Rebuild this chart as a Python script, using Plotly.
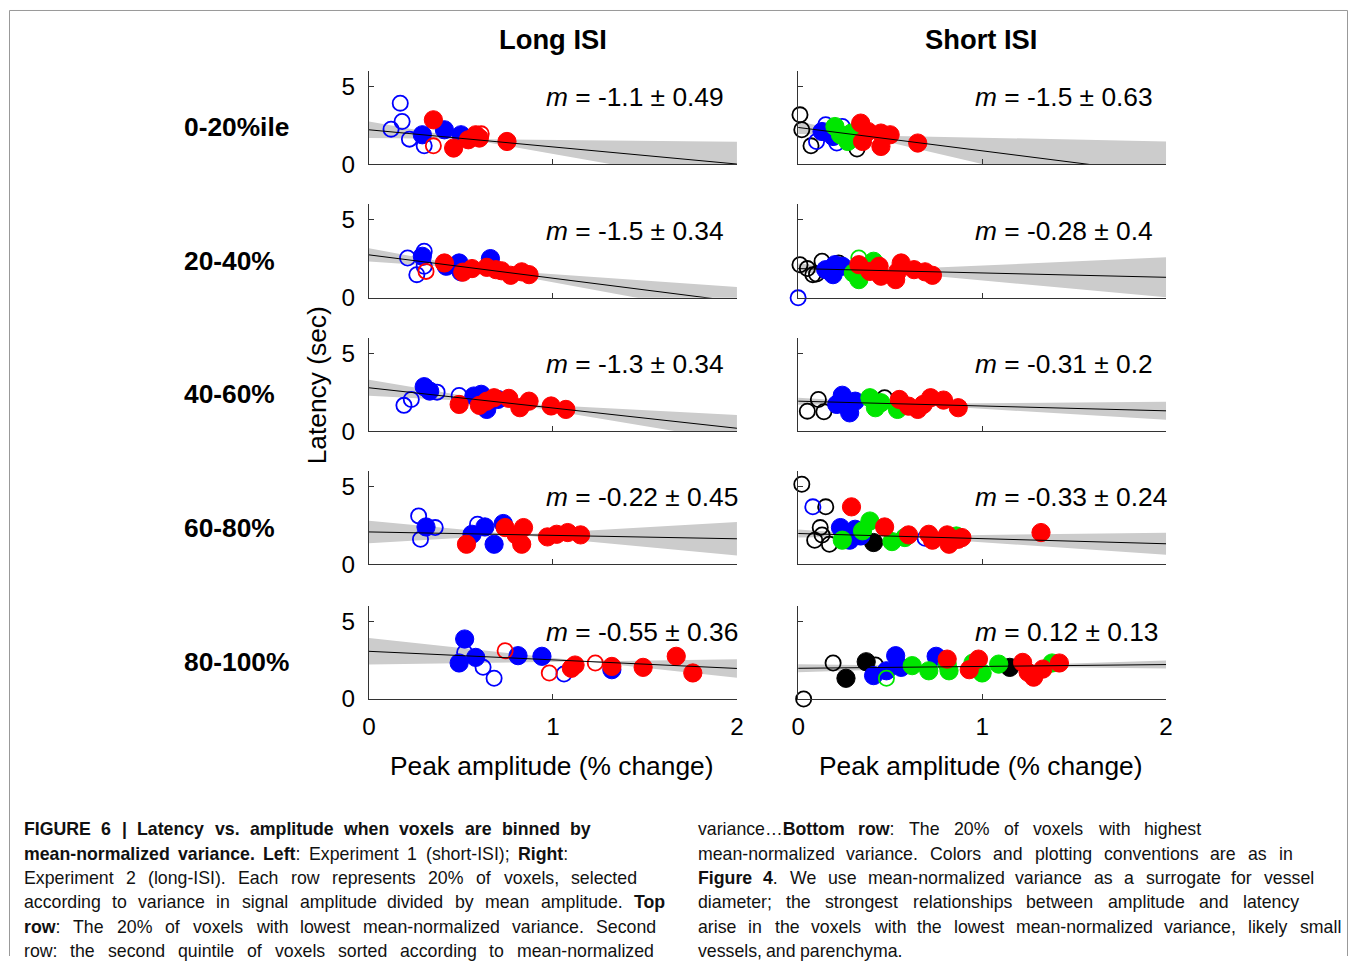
import plotly.graph_objects as go

W, H = 1355, 970
FONT = "Liberation Sans, Arial, Helvetica, sans-serif"

col_titles = ["Long ISI", "Short ISI"]
row_labels = ["0-20%ile", "20-40%", "40-60%", "60-80%", "80-100%"]
x_ticks = [0, 1, 2]
y_ticks = [0, 5]

# regression parameters per panel [row][col]
slopes = [[-1.1, -1.5], [-1.5, -0.28], [-1.3, -0.31], [-0.22, -0.33], [-0.55, 0.12]]
slope_err = [[0.49, 0.63], [0.34, 0.4], [0.34, 0.2], [0.45, 0.24], [0.36, 0.13]]
intercepts = [[2.2, 2.35], [2.76, 1.88], [2.78, 1.92], [2.07, 1.97], [3.06, 1.97]]
pivot_x = [[0.54, 0.33], [0.62, 0.4], [0.75, 0.56], [0.8, 0.52], [1.18, 1.0]]

# points: key -> (x list, y list); key = colour_style
long_r1 = {
    "blue_open": ([0.17, 0.18, 0.12, 0.22, 0.30], [3.91, 2.73, 2.24, 1.60, 1.17]),
    "blue_filled": ([0.29, 0.41, 0.50], [1.88, 2.20, 1.88]),
    "red_open": ([0.35, 0.61], [1.17, 1.94]),
    "red_filled": ([0.35, 0.46, 0.54, 0.58, 0.60, 0.75], [2.84, 1.03, 1.56, 1.88, 1.67, 1.45]),
}
short_r1 = {
    "black_open": ([0.01, 0.02, 0.07, 0.32], [3.16, 2.20, 1.17, 0.96]),
    "blue_open": ([0.15, 0.10, 0.24, 0.21], [2.52, 1.45, 2.41, 1.35]),
    "blue_filled": ([0.13, 0.19], [2.09, 1.77]),
    "green_filled": ([0.20, 0.23, 0.29, 0.27], [2.41, 1.88, 1.99, 1.45]),
    "red_filled": ([0.34, 0.38, 0.35, 0.45, 0.50, 0.45, 0.65], [2.63, 2.09, 1.45, 1.99, 1.88, 1.13, 1.35]),
}
long_r2 = {
    "blue_open": ([0.21, 0.30, 0.26, 0.30], [2.56, 2.99, 1.49, 2.03]),
    "blue_filled": ([0.29, 0.42, 0.49, 0.50, 0.66], [2.67, 2.03, 2.24, 1.67, 2.52]),
    "red_open": ([0.31], [1.70]),
    "red_filled": ([0.41, 0.51, 0.56, 0.64, 0.69, 0.72, 0.77, 0.83, 0.87],
                   [2.24, 1.65, 1.88, 1.96, 1.81, 1.74, 1.45, 1.67, 1.49]),
}
short_r2 = {
    "black_open": ([0.01, 0.05, 0.08, 0.13, 0.10, 0.22, 0.18], [2.13, 1.88, 1.49, 2.35, 1.53, 2.24, 1.70]),
    "blue_open": ([0.0], [0.0]),
    "blue_filled": ([0.15, 0.20, 0.24, 0.19], [1.81, 2.13, 2.03, 1.49]),
    "green_open": ([0.33], [2.56]),
    "green_filled": ([0.30, 0.41, 0.33], [1.60, 2.35, 1.17]),
    "red_filled": ([0.33, 0.39, 0.44, 0.45, 0.53, 0.56, 0.63, 0.69, 0.73, 0.54],
                   [2.13, 1.70, 2.03, 1.39, 1.17, 2.24, 1.81, 1.67, 1.45, 1.67]),
}
long_r3 = {
    "blue_open": ([0.19, 0.23, 0.37, 0.49], [1.65, 2.03, 2.50, 2.29]),
    "blue_filled": ([0.30, 0.33, 0.57, 0.61, 0.64, 0.70], [2.85, 2.57, 2.25, 2.36, 1.39, 2.03]),
    "red_filled": ([0.49, 0.60, 0.68, 0.76, 0.82, 0.87, 0.99, 1.07, 0.64],
                   [1.71, 1.65, 2.14, 2.10, 1.50, 1.92, 1.61, 1.39, 1.92]),
}
short_r3 = {
    "black_open": ([0.05, 0.11, 0.14, 0.47], [1.28, 2.03, 1.24, 2.14]),
    "blue_filled": ([0.24, 0.28, 0.21, 0.31], [2.30, 1.17, 1.71, 1.92]),
    "green_filled": ([0.39, 0.45, 0.54, 0.42], [2.14, 1.82, 1.39, 1.50]),
    "red_filled": ([0.55, 0.60, 0.65, 0.72, 0.79, 0.87, 0.68], [2.03, 1.60, 1.39, 2.14, 1.99, 1.50, 1.71]),
}
long_r4 = {
    "blue_open": ([0.27, 0.28, 0.36, 0.59], [3.10, 1.60, 2.35, 2.56]),
    "blue_filled": ([0.31, 0.56, 0.63, 0.68, 0.73], [2.39, 1.92, 2.39, 1.28, 2.61]),
    "red_filled": ([0.53, 0.74, 0.80, 0.84, 0.83, 0.97, 1.02, 1.08, 1.15],
                   [1.28, 2.35, 1.88, 2.35, 1.28, 1.75, 1.92, 2.03, 1.88]),
}
short_r4 = {
    "black_open": ([0.02, 0.15, 0.12, 0.09, 0.17, 0.13], [5.13, 3.68, 2.35, 1.54, 1.28, 1.88]),
    "blue_open": ([0.08, 0.69], [3.68, 1.66]),
    "black_filled": ([0.41], [1.39]),
    "blue_filled": ([0.23, 0.31, 0.34, 0.28], [2.35, 2.24, 1.81, 1.54]),
    "green_filled": ([0.24, 0.39, 0.35, 0.51, 0.58, 0.86], [1.54, 2.77, 2.14, 1.45, 1.71, 1.81]),
    "red_filled": ([0.29, 0.47, 0.60, 0.71, 0.73, 0.81, 0.82, 0.87, 0.89, 1.32],
                   [3.68, 2.39, 1.88, 1.92, 1.54, 1.88, 1.28, 1.60, 1.71, 2.03]),
}
long_r5 = {
    "blue_filled": ([0.52, 0.49, 0.58, 0.81, 0.94, 1.32], [3.85, 2.31, 2.67, 2.78, 2.74, 1.88]),
    "blue_open": ([0.52, 0.62, 0.68, 1.06], [2.99, 2.03, 1.33, 1.60]),
    "red_open": ([0.74, 0.98, 1.23], [3.10, 1.67, 2.31]),
    "red_filled": ([1.10, 1.12, 1.32, 1.49, 1.67, 1.76], [1.97, 2.18, 2.09, 2.03, 2.74, 1.67]),
}
short_r5 = {
    "black_open": ([0.03, 0.19, 0.42], [0.0, 2.31, 2.18]),
    "black_filled": ([0.26, 0.37, 1.15], [1.33, 2.39, 2.03]),
    "blue_filled": ([0.53, 0.41, 0.56, 0.75, 0.48], [2.78, 1.50, 2.03, 2.74, 1.81]),
    "green_open": ([0.48], [1.33]),
    "green_filled": ([0.62, 0.71, 0.82, 0.95, 1.00, 1.09, 1.38, 0.81],
                     [2.14, 1.81, 1.81, 2.31, 1.67, 2.24, 2.31, 2.24]),
    "red_filled": ([0.81, 0.93, 0.98, 1.22, 1.25, 1.33, 1.42, 1.28],
                   [2.56, 1.88, 2.56, 2.35, 1.71, 1.92, 2.31, 1.40]),
}

panels = [[long_r1, short_r1], [long_r2, short_r2], [long_r3, short_r3],
          [long_r4, short_r4], [long_r5, short_r5]]

colors = {"blue": "#0000ff", "red": "#ff0000", "green": "#00e600", "black": "#000000"}

cap_left = [
    "<b>FIGURE 6 | Latency vs. amplitude when voxels are binned by</b>",
    "<b>mean-normalized variance. Left</b>: Experiment 1 (short-ISI); <b>Right</b>:",
    "Experiment 2 (long-ISI). Each row represents 20% of voxels, selected",
    "according to variance in signal amplitude divided by mean amplitude. <b>Top</b>",
    "<b>row</b>: The 20% of voxels with lowest mean-normalized variance. Second",
    "row: the second quintile of voxels sorted according to mean-normalized",
]
cap_right = [
    "variance…<b>Bottom row</b>: The 20% of voxels with highest",
    "mean-normalized variance. Colors and plotting conventions are as in",
    "<b>Figure 4</b>. We use mean-normalized variance as a surrogate for vessel",
    "diameter; the strongest relationships between amplitude and latency",
    "arise in the voxels with the lowest mean-normalized variance, likely small",
    "vessels, and parenchyma.",
]
# right ends (px) of each caption line as set in the reference (None = natural spacing)
cap_left_end = [590, 567, 636, 665, 655, 652]
cap_right_end = [1198, 1290, 1311, 1296, 1338, None]

# ------------------------------------------------------------ screen mapping
# the photographed page shows the figure slightly reduced; positions below are
# given in photo pixels and converted back to figure pixels
S, AX, AY = 0.987, 8.0, 0.0


def X(p):
    return (p - AX) / S


def Y(p):
    return (p - AY) / S


def fs(v):
    return v / S


# ---------------------------------------------------------------- figure
col_x = [(369, 736), (797, 1164)]
row_base = [164.3, 298.3, 431.7, 565.0, 700.0]
px_per_unit = 15.6
y_max = 6

fig = go.Figure()
layout = dict(width=W, height=H, margin=dict(l=0, r=0, t=0, b=0),
              paper_bgcolor="white", plot_bgcolor="white", showlegend=False)
annotations = []
axis_font = dict(family=FONT, size=fs(24), color="black")

for r in range(5):
    for c in range(2):
        k = r * 2 + c + 1
        xa = "x" if k == 1 else f"x{k}"
        ya = "y" if k == 1 else f"y{k}"
        xl = "xaxis" if k == 1 else f"xaxis{k}"
        yl = "yaxis" if k == 1 else f"yaxis{k}"
        x0p, x1p = col_x[c]
        base = row_base[r]
        top = base - y_max * px_per_unit
        layout[xl] = dict(domain=[X(x0p) / W, X(x1p) / W], range=[0, 2], anchor=ya,
                          showline=True, linecolor="#333", linewidth=1, ticks="inside",
                          ticklen=5, tickcolor="#333", tickvals=x_ticks,
                          showticklabels=(r == 4), showgrid=False, zeroline=False,
                          tickfont=axis_font, ticklabelstandoff=6)
        layout[yl] = dict(domain=[1 - Y(base) / H, 1 - Y(top) / H], range=[0, y_max],
                          anchor=xa, showline=True, linecolor="#333", linewidth=1,
                          ticks="inside", ticklen=5, tickcolor="#333", tickvals=y_ticks,
                          showticklabels=(c == 0), showgrid=False, zeroline=False,
                          tickfont=axis_font, ticklabelstandoff=8)
        m = slopes[r][c]
        s = slope_err[r][c]
        b = intercepts[r][c]
        xp = pivot_x[r][c]
        yp = b + m * xp
        lo, hi = m - 2 * s, m + 2 * s
        bx = [0, xp, 2, 2, xp, 0, 0]
        by = [yp + lo * (0 - xp), yp, yp + hi * (2 - xp), yp + lo * (2 - xp), yp,
              yp + hi * (0 - xp), yp + lo * (0 - xp)]
        fig.add_trace(go.Scatter(x=bx, y=by, xaxis=xa, yaxis=ya, mode="lines",
                                 fill="toself", fillcolor="#cccccc",
                                 line=dict(width=0, color="#cccccc"), hoverinfo="skip"))
        for key, (xs, ys) in panels[r][c].items():
            col, style = key.split("_")
            if style == "filled":
                mk = dict(size=fs(18), color=colors[col], line=dict(width=1, color=colors[col]))
            else:
                mk = dict(size=fs(15), color=colors[col], symbol="circle-open",
                          line=dict(width=1.8, color=colors[col]))
            fig.add_trace(go.Scatter(x=xs, y=ys, xaxis=xa, yaxis=ya, mode="markers",
                                     marker=mk, cliponaxis=False))
        fig.add_trace(go.Scatter(x=[0, 2], y=[b, b + m * 2], xaxis=xa, yaxis=ya,
                                 mode="lines", line=dict(color="black", width=1)))
        annotations.append(dict(x=0.95, y=4.3, xref=xa, yref=ya, xanchor="left",
                                yanchor="middle", showarrow=False,
                                text=f"<i>m</i> = {m} ± {s}",
                                font=dict(family=FONT, size=fs(26), color="black")))


def pa(text, x, y, size, xanchor="center", bold=False, angle=0):
    annotations.append(dict(x=X(x) / W, y=1 - Y(y) / H, xref="paper", yref="paper",
                            xanchor=xanchor, yanchor="middle", showarrow=False,
                            textangle=angle, borderpad=0, borderwidth=0,
                            text=f"<b>{text}</b>" if bold else text,
                            font=dict(family=FONT, size=fs(size), color="black")))


pa(col_titles[0], 553, 40, 27, bold=True)
pa(col_titles[1], 979, 40, 27, bold=True)
for i, lab in enumerate(row_labels):
    pa(lab, 185, 127 + i * 134, 26, xanchor="left", bold=True)
pa("Latency (sec)", 318, 386, 26, angle=-90)
pa("Peak amplitude (% change)", 551, 767, 26)
pa("Peak amplitude (% change)", 979, 767, 26)

# ------------------------------------------------ justified caption lines
REG = dict(zip(" %()-.,:;|…'", [278, 889, 333, 333, 333, 278, 278, 278, 278, 260, 1000, 191]))
REG.update({d: 556 for d in "0123456789"})
REG.update(dict(zip("ABCDEFGHIJKLMNOPQRSTUVWXYZ",
                    [667, 667, 722, 722, 667, 611, 778, 722, 278, 500, 667, 556, 833, 722, 778,
                     667, 778, 722, 667, 611, 722, 667, 944, 667, 667, 611])))
REG.update(dict(zip("abcdefghijklmnopqrstuvwxyz",
                    [556, 556, 500, 556, 556, 278, 556, 556, 222, 222, 500, 222, 833, 556, 556,
                     556, 556, 333, 500, 278, 556, 500, 722, 500, 500, 500])))
BLD = dict(zip(" %()-.,:;|…'", [278, 889, 333, 333, 333, 278, 278, 333, 333, 280, 1000, 238]))
BLD.update({d: 556 for d in "0123456789"})
BLD.update(dict(zip("ABCDEFGHIJKLMNOPQRSTUVWXYZ",
                    [722, 722, 722, 722, 667, 611, 778, 722, 278, 556, 722, 611, 833, 722, 778,
                     667, 778, 722, 667, 611, 722, 667, 944, 667, 667, 611])))
BLD.update(dict(zip("abcdefghijklmnopqrstuvwxyz",
                    [556, 611, 556, 611, 556, 333, 611, 611, 278, 278, 556, 278, 889, 611, 611,
                     611, 611, 389, 556, 333, 611, 556, 778, 556, 556, 500])))
CAP_SIZE = 17.5  # as seen in the photo


def parse(line):
    out, bold, i = [], False, 0
    while i < len(line):
        if line.startswith("<b>", i):
            bold, i = True, i + 3
            continue
        if line.startswith("</b>", i):
            bold, i = False, i + 4
            continue
        out.append((line[i], bold))
        i += 1
    return out


def split_words(chars):
    words, cur = [], []
    for ch in chars:
        if ch[0] == " ":
            if cur:
                words.append(cur)
            cur = []
        else:
            cur.append(ch)
    if cur:
        words.append(cur)
    return words


def word_html(w):
    html, cur_b, buf = "", None, ""
    for ch, bd in w:
        if bd != cur_b and buf:
            html += f"<b>{buf}</b>" if cur_b else buf
            buf = ""
        cur_b = bd
        buf += ch
    html += f"<b>{buf}</b>" if cur_b else buf
    return html


def word_width(w):
    # width in photo pixels
    return sum((BLD if bd else REG).get(ch, 556) for ch, bd in w) / 1000 * CAP_SIZE


def caption_line(line, x_start, x_end, y):
    words = split_words(parse(line))
    widths = [word_width(w) for w in words]
    if x_end is None or len(words) < 2:
        gap = 0.278 * CAP_SIZE
    else:
        gap = (x_end - x_start - sum(widths)) / (len(words) - 1)
    x = x_start
    for w, wd in zip(words, widths):
        annotations.append(dict(x=X(x) / W, y=1 - Y(y) / H, xref="paper", yref="paper",
                                xanchor="left", yanchor="middle", showarrow=False,
                                borderpad=0, borderwidth=0, text=word_html(w),
                                font=dict(family=FONT, size=fs(CAP_SIZE), color="#111")))
        x += wd + gap


cap_y0, cap_dy = 830.5, 24.4
for i, t in enumerate(cap_left):
    caption_line(t, 25, cap_left_end[i], cap_y0 + cap_dy * i)
for i, t in enumerate(cap_right):
    caption_line(t, 697, cap_right_end[i], cap_y0 + cap_dy * i)

layout["annotations"] = annotations
# frame round the figure: left, top and right edges, all inside the page
bl = max(X(10.5), 0.5) / W
br = min(X(1352.5), W - 0.5) / W
bt = 1 - Y(10.5) / H
frame = dict(type="line", xref="paper", yref="paper", line=dict(color="#999", width=1))
layout["shapes"] = [dict(frame, x0=bl, x1=bl, y0=0, y1=bt),
                    dict(frame, x0=bl, x1=br, y0=bt, y1=bt),
                    dict(frame, x0=br, x1=br, y0=0, y1=bt)]
fig.update_layout(**layout)

fit_page = (
    "var de=document.documentElement,bd=document.body;"
    "[de,bd].forEach(function(e){e.style.margin='0';e.style.padding='0';"
    "e.style.overflow='hidden';});"
)
fig.write_html("out.html", post_script=fit_page)
